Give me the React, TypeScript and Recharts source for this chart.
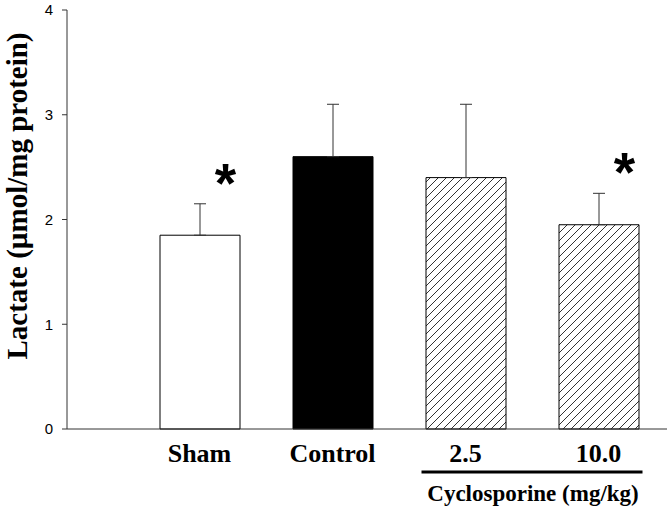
import {
  Bar,
  Cell,
  ComposedChart,
  ErrorBar,
  Scatter,
  XAxis,
  YAxis,
} from "recharts";

const groups = ["Sham", "Control", "2.5", "10.0"];
const means = [1.85, 2.6, 2.4, 1.95];
const errors = [0.3, 0.5, 0.7, 0.3];
const significant = [true, false, false, true];
const fills = ["#ffffff", "#000000", "url(#hatch)", "url(#hatch)"];
const yTicks = [0, 1, 2, 3, 4];

const serif = "'Liberation Serif', 'Times New Roman', serif";
const sans = "'Liberation Sans', Arial, sans-serif";

const data = groups.map((group, i) => ({
  group,
  lactate: means[i],
  err: [0, errors[i]],
  star: significant[i] ? means[i] + errors[i] : null,
}));

function GroupTick(props: any) {
  const { x, y, payload, index } = props;
  const half = 66.5;
  return (
    <g>
      <text
        x={x}
        y={y + 33}
        textAnchor="middle"
        fontFamily={serif}
        fontWeight="bold"
        fontSize={26}
        fill="#000"
      >
        {payload.value}
      </text>
      {index === 2 && (
        <>
          <line x1={x - 44} x2={x + half} y1={y + 43} y2={y + 43} stroke="#000" strokeWidth={3} />
          <text
            x={x + half + 1}
            y={y + 72}
            textAnchor="middle"
            fontFamily={serif}
            fontWeight="bold"
            fontSize={23}
            fill="#000"
          >
            Cyclosporine (mg/kg)
          </text>
        </>
      )}
      {index === 3 && (
        <line x1={x - half} x2={x + 44} y1={y + 43} y2={y + 43} stroke="#000" strokeWidth={3} />
      )}
    </g>
  );
}

function Star(props: any) {
  const { cx, cy } = props;
  if (cx == null || cy == null) return null;
  return (
    <text
      x={cx + 26}
      y={cy - 2}
      textAnchor="middle"
      fontFamily={sans}
      fontWeight="bold"
      fontSize={55}
      fill="#000"
    >
      *
    </text>
  );
}

export default function App() {
  return (
    <div style={{ position: "absolute", left: 0, top: 0, background: "#fff" }}>
      <ComposedChart
        width={671}
        height={511}
        data={data}
        margin={{ top: 10, right: 4, bottom: 0, left: 0 }}
      >
        <defs>
          <pattern id="hatch" patternUnits="userSpaceOnUse" width={8} height={8}>
            <rect width={8} height={8} fill="#fff" />
            <path d="M-2,2 L2,-2 M0,8 L8,0 M6,10 L10,6" stroke="#333" strokeWidth={1} />
          </pattern>
        </defs>
        <XAxis
          dataKey="group"
          height={82}
          padding={{ left: 66, right: 2 }}
          tickLine={false}
          tickSize={0}
          tickMargin={0}
          axisLine={{ stroke: "#333" }}
          tick={<GroupTick />}
          interval={0}
        />
        <YAxis
          width={67}
          domain={[0, 4]}
          ticks={yTicks}
          tickSize={5}
          tickMargin={9}
          axisLine={{ stroke: "#333" }}
          tickLine={{ stroke: "#333" }}
          tick={{ fill: "#000", fontSize: 15, fontFamily: sans }}
          label={{
            content: () => (
              <text
                transform="translate(17,196) rotate(-90)"
                textAnchor="middle"
                dominantBaseline="central"
                fontFamily={serif}
                fontWeight="bold"
                fontSize={29}
                fill="#000"
              >
                Lactate (µmol/mg protein)
              </text>
            ),
          }}
        />
        <Bar dataKey="lactate" barSize={80} stroke="#000" strokeWidth={1} isAnimationActive={false}>
          {data.map((d, i) => (
            <Cell key={d.group} fill={fills[i]} />
          ))}
          <ErrorBar dataKey="err" width={6} stroke="#333" strokeWidth={1} direction="y" />
        </Bar>
        <Scatter dataKey="star" shape={<Star />} isAnimationActive={false} />
      </ComposedChart>
    </div>
  );
}
